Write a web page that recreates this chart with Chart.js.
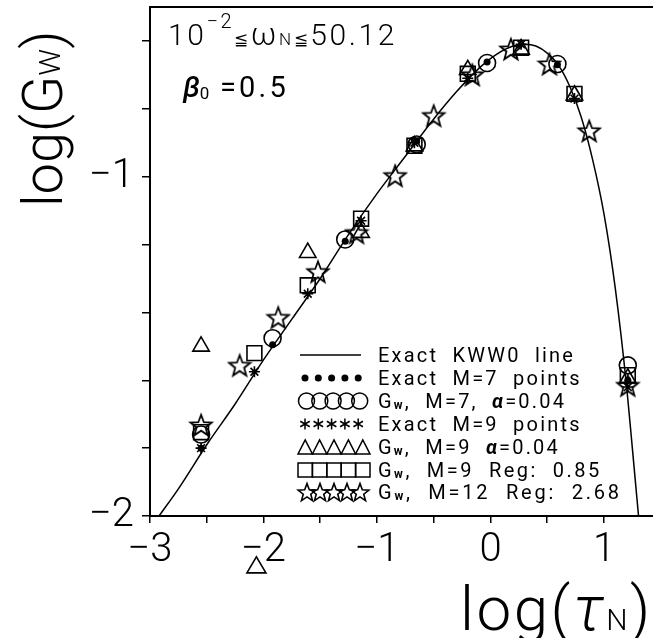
<!DOCTYPE html>
<html>
<head>
<meta charset="utf-8">
<script src="https://cdn.jsdelivr.net/npm/chart.js@4"></script>
<style>
  html, body { margin:0; padding:0; background:#fff; }
  #wrap { width:653px; height:638px; }
</style>
</head>
<body>
<div id="wrap"><canvas id="chart" width="653" height="638"></canvas></div>
<script>
// ─ Data ─
// exact KWW0 line
const lineX = [-2.92,-2.75,-2.5,-2.25,-2.0,-1.75,-1.5,-1.25,-1.0,-0.75,-0.5,-0.3,-0.1,0.05,0.2,0.3,0.4,0.5,0.6,0.7,0.8,0.9,1.0,1.1,1.2,1.25,1.31];
const lineY = [-2.0,-1.92,-1.79,-1.67,-1.54,-1.42,-1.3,-1.17,-1.05,-0.94,-0.83,-0.75,-0.68,-0.64,-0.615,-0.61,-0.615,-0.636,-0.672,-0.735,-0.825,-0.95,-1.11,-1.33,-1.62,-1.8,-2.02];

// M = 7 grid
const m7X      = [-2.55,-1.92,-1.28,-0.65,-0.03,0.59,1.21];
const exact7Y  = [-1.80,-1.495,-1.19,-0.895,-0.662,-0.67,-1.60];
const gw7Y     = [-1.76,-1.476,-1.185,-0.905,-0.665,-0.668,-1.556];

// M = 9 grid
const m9X      = [-2.55,-2.08,-1.61,-1.14,-0.67,-0.20,0.27,0.74,1.21];
const exact9Y  = [-1.80,-1.575,-1.345,-1.13,-0.90,-0.71,-0.61,-0.77,-1.62];
const gw9aY    = [-1.50,-2.144,-1.224,-1.165,-0.91,-0.685,-0.625,-0.76,-1.594];
const gw9rY    = [-1.753,-1.52,-1.32,-1.124,-0.909,-0.697,-0.62,-0.756,-1.585];

// M = 12 grid
const m12X     = [-2.55,-2.21,-1.87,-1.52,-1.18,-0.84,-0.50,-0.16,0.18,0.52,0.87,1.21];
const gw12Y    = [-1.732,-1.556,-1.415,-1.28,-1.165,-0.997,-0.82,-0.70,-0.624,-0.668,-0.865,-1.615];

// axes
const xTicks = [-3,-2.5,-2,-1.5,-1,-0.5,0,0.5,1];
const yTicks = [-2,-1.8,-1.6,-1.4,-1.2,-1,-0.8,-0.6];
const X_MIN = -3, X_MAX = 1.432, Y_MIN = -2, Y_MAX = -0.5;

const FONT = 'Roboto, "DejaVu Sans", sans-serif';
const pts = (xs, ys) => xs.map((x,i) => ({x, y: ys[i]}));
const fmt = v => v < 0 ? '\u2212' + Math.abs(v) : String(v);

// hollow five-point star marker
function starImg(size, lw) {
  const c = document.createElement('canvas');
  c.width = c.height = size;
  const g = c.getContext('2d');
  const R = size/2 - lw, r = R*0.42, cx = size/2, cy = size/2 + 1;
  g.beginPath();
  for (let i=0; i<10; i++) {
    const a = -Math.PI/2 + i*Math.PI/5, rr = i%2 ? r : R;
    g.lineTo(cx + rr*Math.cos(a), cy + rr*Math.sin(a));
  }
  g.closePath();
  g.lineWidth = lw; g.strokeStyle = '#000'; g.stroke();
  return c;
}
const STAR = starImg(26, 1.8);
const STAR_SM = starImg(22, 1.6);

// ─ rich text helper (sub / superscripts) ─
function rich(ctx, x, y, parts, spacing) {
  let cx = x;
  ctx.letterSpacing = spacing || '0px';
  for (const [t, size, dy=0, style=''] of parts) {
    ctx.font = `${style} ${size}px ${FONT}`;
    ctx.fillText(t, cx, y + dy);
    cx += ctx.measureText(t).width;
  }
  ctx.letterSpacing = '0px';
  return cx;
}

function asterisk(ctx, x, y, r) {
  ctx.beginPath();
  for (let i=0; i<3; i++) {
    const a = Math.PI/2 + i*Math.PI/3;
    ctx.moveTo(x - r*Math.cos(a), y - r*Math.sin(a));
    ctx.lineTo(x + r*Math.cos(a), y + r*Math.sin(a));
  }
  ctx.stroke();
}

function triangle(ctx, cx, cy, w, h) {
  ctx.beginPath();
  ctx.moveTo(cx - w/2, cy + h/2); ctx.lineTo(cx, cy - h/2); ctx.lineTo(cx + w/2, cy + h/2);
  ctx.closePath(); ctx.stroke();
}

// ─ legend + labels plugin ─
const decor = {
  id: 'decor',
  afterDraw(chart) {
    const {ctx, chartArea: ca, scales} = chart;
    ctx.save();
    ctx.strokeStyle = '#000'; ctx.fillStyle = '#000';
    ctx.textBaseline = 'alphabetic'; ctx.textAlign = 'left';

    // top frame
    ctx.lineWidth = 2;
    ctx.beginPath(); ctx.moveTo(ca.left, ca.top); ctx.lineTo(ca.right, ca.top); ctx.stroke();

    // triangle that falls below the frame (drawn unclipped, as in the original)
    ctx.lineWidth = 1.6;
    m9X.forEach((x, i) => {
      if (gw9aY[i] < Y_MIN) triangle(ctx, scales.x.getPixelForValue(x) + 2, scales.y.getPixelForValue(gw9aY[i]), 19, 16);
    });

    // axis titles
    ctx.save();
    ctx.translate(62, 207); ctx.rotate(-Math.PI/2);
    rich(ctx, 0, 0, [['log(', 56, 0, '300'], ['G', 56, 0, '300'], ['W', 30, -2, '300'], [')', 56, 0, '300']]);
    ctx.restore();
    rich(ctx, 460, 630, [['log(', 62, 0, '300'], ['\u03c4', 62, 0, 'italic 300'], ['N', 30, 0, '300'], [')', 62, 0, '300']], '2.5px');

    // annotations
    rich(ctx, 168, 45, [['10', 30, 0, '300'], ['\u22122', 20, -17, '300'], ['\u2266', 17, 0, '300'],
      ['\u03c9', 31, 0, '300'], ['N', 17, 0, '300'], ['\u2266', 17, 0, '300'], ['50.12', 30, 0, '300']], '2.6px');
    rich(ctx, 183, 97, [['\u03b2', 29, 0, 'italic 500'], ['0', 17, 2, '400']]);
    rich(ctx, 220, 97, [['=0.5', 29, 0, '400']], '3.2px');

    // legend
    const lx = 305, step = 13.3, tx = 378;
    const rows = [355, 378, 401, 424, 447, 470, 492];
    ctx.lineWidth = 1.5;
    ctx.beginPath(); ctx.moveTo(300, rows[0]); ctx.lineTo(361, rows[0]); ctx.stroke();
    for (let i=0; i<5; i++) {
      const cx = lx + i*step;
      ctx.beginPath(); ctx.arc(cx, rows[1], 3.5, 0, 2*Math.PI); ctx.fill();
      ctx.beginPath(); ctx.arc(cx + 1.5, rows[2], 8, 0, 2*Math.PI); ctx.stroke();
      asterisk(ctx, cx, rows[3], 5.5);
      const bx = 298 + i*14.4;
      triangle(ctx, bx + 7.2, rows[4], 14.4, 14);
      ctx.strokeRect(bx, rows[5]-7, 14.4, 14);
      ctx.drawImage(STAR_SM, Math.round(cx + 2 - 11), rows[6] - 11);
    }
    const T = 20, S = 12, sp = '2.2px';
    const bo = 7;
    rich(ctx, tx, rows[0]+bo, [['Exact  KWW0  line', T]], sp);
    rich(ctx, tx, rows[1]+bo, [['Exact  M=7  points', T]], sp);
    rich(ctx, tx, rows[2]+bo, [['G', T], ['w', S, 1, 'bold'], [',  M=7,  ', T], ['\u03b1', T, 0, 'italic bold'], ['=0.04', T]], sp);
    rich(ctx, tx, rows[3]+bo, [['Exact  M=9  points', T]], sp);
    rich(ctx, tx, rows[4]+bo, [['G', T], ['w', S, 1, 'bold'], [',  M=9  ', T], ['\u03b1', T, 0, 'italic bold'], ['=0.04', T]], sp);
    rich(ctx, tx, rows[5]+bo, [['G', T], ['w', S, 1, 'bold'], [',  M=9  Reg:  0.85', T]], '2.5px');
    rich(ctx, tx, rows[6]+bo, [['G', T], ['w', S, 1, 'bold'], [',  M=12  Reg:  2.68', T]], '2.8px');
    ctx.restore();
  }
};

const mk = (label, data, style, r, extra={}) => Object.assign({
  label, data, showLine:false, pointStyle:style, pointRadius:r, pointHoverRadius:r,
  pointBorderColor:'#000', pointBackgroundColor:'rgba(0,0,0,0)', pointBorderWidth:1.6
}, extra);

new Chart(document.getElementById('chart'), {
  type: 'scatter',
  data: {
    datasets: [
      { label:'Exact KWW0 line', data: pts(lineX, lineY), showLine:true, pointRadius:0,
        borderColor:'#000', borderWidth:1.5, cubicInterpolationMode:'monotone', order:10 },
      mk('Exact M=7 points', pts(m7X, exact7Y), 'circle', 3.5, {pointBackgroundColor:'#000', pointBorderWidth:0}),
      mk('Gw, M=7, α=0.04', pts(m7X, gw7Y), 'circle', 8.5),
      mk('Exact M=9 points', pts(m9X, exact9Y), 'star', 5.5),
      mk('Gw, M=9 α=0.04', pts(m9X, gw9aY), 'triangle', 9.5),
      mk('Gw, M=9 Reg: 0.85', pts(m9X, gw9rY), 'rect', 10.5),
      mk('Gw, M=12 Reg: 2.68', pts(m12X, gw12Y), STAR, 13)
    ]
  },
  options: {
    responsive:false, devicePixelRatio:1, animation:false,
    layout: { autoPadding:false, padding: { top:7, right:0, left:0, bottom:0 } },
    plugins: { legend:{ display:false }, tooltip:{ enabled:false } },
    scales: {
      x: {
        type:'linear', min:X_MIN, max:X_MAX,
        afterBuildTicks: a => { a.ticks = xTicks.map(v => ({value:v})); },
        afterFit: a => { a.height = 122; a.paddingLeft = 0; a.paddingRight = 0; },
        ticks: { autoSkip:false, maxRotation:0, padding:4, color:'#000',
          font:{ family:FONT, size:40, weight:'300' },
          callback: v => Number.isInteger(v) ? fmt(v) : '' },
        grid: { drawOnChartArea:false, tickLength:7, color:'#000', lineWidth:1.5 },
        border: { color:'#000', width:2 }
      },
      y: {
        type:'linear', min:Y_MIN, max:Y_MAX,
        afterBuildTicks: a => { a.ticks = yTicks.map(v => ({value:v})); },
        afterFit: a => { a.width = 150; a.paddingTop = 0; a.paddingBottom = 0; },
        ticks: { autoSkip:false, padding:8, color:'#000',
          font:{ family:FONT, size:40, weight:'300' },
          callback: v => Number.isInteger(v) ? fmt(v) : '' },
        grid: { drawOnChartArea:false, tickLength:8, color:'#000', lineWidth:1.5 },
        border: { color:'#000', width:2 }
      }
    }
  },
  plugins: [decor]
});
</script>
</body>
</html>
